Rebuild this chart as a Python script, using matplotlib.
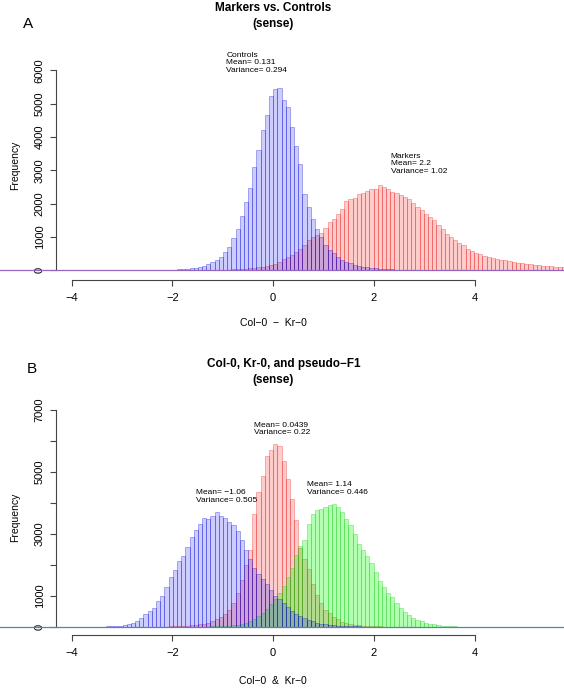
import numpy as np
import matplotlib
matplotlib.use("Agg")
import matplotlib.pyplot as plt
from matplotlib.transforms import blended_transform_factory

plt.rcParams['font.family'] = ['Liberation Sans', 'DejaVu Sans']

# bin grid shared by all histograms (first_bin = index of the leftmost bin)
bin_width = 0.083

# panel A: Markers vs. Controls
a_controls_first_bin = -35
a_controls_counts = [
    1, 1, 2, 2, 3, 4, 5, 7, 9, 12, 15, 20, 28, 35, 45, 60, 80, 100, 130, 190,
    260, 310, 400, 540, 710, 960, 1230, 1630, 2040, 2480, 3100, 3600, 4210, 4650,
    5220, 5450, 5480, 5100, 4910, 4300, 3730, 3200, 2300, 1900, 1550, 1250, 1000,
    760, 620, 510, 410, 310, 250, 210, 160, 140, 110, 90, 75, 60, 50, 40, 30, 25,
    20, 15, 12, 10, 8, 6, 5, 4, 3, 2, 1]
a_markers_first_bin = -20
a_markers_counts = [
    1, 2, 3, 4, 5, 7, 10, 12, 15, 20, 25, 30, 40, 50, 60, 70, 85, 100, 120, 150,
    200, 250, 340, 400, 470, 550, 650, 750, 920, 1000, 1050, 1120, 1280, 1450, 1530,
    1680, 1830, 2070, 2130, 2180, 2300, 2330, 2370, 2430, 2430, 2550, 2500, 2430,
    2350, 2320, 2250, 2200, 2150, 2030, 1900, 1800, 1680, 1600, 1500, 1350, 1250,
    1100, 1000, 900, 820, 750, 650, 570, 520, 480, 440, 410, 380, 350, 320, 300,
    275, 250, 230, 210, 195, 180, 165, 150, 140, 130, 120, 110, 100, 92, 85]

# panel B: Col-0, Kr-0, pseudo-F1
b_col_first_bin = -44
b_col_counts = [
    1, 2, 3, 5, 8, 12, 20, 30, 55, 75, 130, 180, 270, 400, 500, 590, 825, 1000,
    1290, 1610, 1820, 2110, 2270, 2570, 2890, 3110, 3320, 3500, 3480, 3570, 3700,
    3570, 3500, 3380, 3290, 3080, 2790, 2490, 2200, 1910, 1710, 1530, 1390, 1180,
    1000, 910, 780, 640, 520, 420, 340, 270, 210, 170, 130, 100, 80, 60, 45, 35,
    25, 20, 15, 10, 8, 6, 4, 3, 2, 1]
b_f1_first_bin = -30
b_f1_counts = [
    1, 2, 3, 4, 5, 7, 9, 12, 20, 30, 40, 60, 85, 100, 130, 200, 250, 320, 400,
    540, 750, 1100, 1500, 2000, 2490, 3650, 4355, 4860, 5505, 5710, 5890, 5830,
    5355, 4760, 4120, 3450, 2550, 2200, 1870, 1390, 1020, 750, 540, 430, 320, 235,
    160, 130, 85, 60, 45, 30, 20, 15, 10, 7, 5, 4, 3, 2, 1]
b_kr_first_bin = -20
b_kr_counts = [
    1, 2, 3, 3, 5, 8, 12, 18, 25, 35, 50, 70, 95, 130, 180, 250, 330, 430, 560,
    720, 900, 1100, 1300, 1600, 1900, 2300, 2600, 2810, 3320, 3640, 3770, 3800,
    3860, 3920, 3960, 3860, 3700, 3480, 3270, 2980, 2680, 2490, 2270, 2040, 1770,
    1470, 1290, 1090, 960, 770, 590, 480, 375, 290, 215, 180, 130, 100, 75, 55, 30,
    20, 12, 8, 5, 3, 2, 1]

a_labels = ["Controls\nMean= 0.131\nVariance= 0.294", "Markers\nMean= 2.2\nVariance= 1.02"]
b_labels = ["Mean= \u22121.06\nVariance= 0.505", "Mean= 0.0439\nVariance= 0.22",
            "Mean= 1.14\nVariance= 0.446"]

BLUE = ((0, 0, 1, 0.2), (0, 0, 0.85, 0.3))
RED = ((1, 0, 0, 0.2), (0.9, 0, 0, 0.28))
GREEN = ((0, 1, 0, 0.3), (0, 0.75, 0, 0.28))

W, H = 564, 688
XLIM = (-5.42, 5.77)


def px(x, y):
    return x / W, 1 - y / H


def draw_hist(ax, first_bin, counts, colors):
    edges = (first_bin + np.arange(len(counts))) * bin_width
    ax.bar(edges, counts, width=bin_width, align='edge',
           color=colors[0], edgecolor=colors[1], linewidth=0.7)


def style_axis(ax, ymax, yticklabels, base_color):
    ax.set_xlim(*XLIM)
    for s in ["top", "right"]:
        ax.spines[s].set_visible(False)
    ax.spines["left"].set_position(("data", -4.31))
    ax.spines["left"].set_bounds(0, ymax)
    ax.spines["bottom"].set_bounds(-4, 4)
    for s in ["left", "bottom"]:
        ax.spines[s].set_color("#444444")
        ax.spines[s].set_linewidth(0.8)
    ax.set_xticks([-4, -2, 0, 2, 4])
    ax.set_yticks(np.arange(0, ymax + 1, 1000))
    ax.set_yticklabels(yticklabels, rotation=90, va='center')
    ax.tick_params(axis='both', length=4, width=0.8, color="#444444", labelsize=8)
    ax.tick_params(axis='x', pad=5)
    ax.tick_params(axis='y', pad=4)
    ax.axhline(0, color=base_color, lw=0.9, zorder=3)
    ax.patch.set_visible(False)


fig = plt.figure(figsize=(W / 100, H / 100), dpi=100)

# ---- panel A ----
ax1 = fig.add_axes([0, 1 - 280.3 / H, 1, 240.3 / H])
ax1.set_ylim(-300, -300 + 240.3 / 33.33 * 1000)
draw_hist(ax1, a_markers_first_bin, a_markers_counts, RED)
draw_hist(ax1, a_controls_first_bin, a_controls_counts, BLUE)
style_axis(ax1, 6000, [str(v) for v in range(0, 7000, 1000)], "#9466c4")
ax1.text(-0.93, 6560, a_labels[0], fontsize=6, va='top', ha='left', linespacing=1.1)
ax1.text(2.33, 3520, a_labels[1], fontsize=6, va='top', ha='left', linespacing=1.1)

# ---- panel B ----
ax2 = fig.add_axes([0, 1 - 635.3 / H, 1, 240.3 / H])
ax2.set_ylim(-277, -277 + 240.3 / 31 * 1000)
draw_hist(ax2, b_f1_first_bin, b_f1_counts, RED)
draw_hist(ax2, b_kr_first_bin, b_kr_counts, GREEN)
draw_hist(ax2, b_col_first_bin, b_col_counts, BLUE)
style_axis(ax2, 7000, ["0", "1000", "", "3000", "", "5000", "", "7000"], "#5a7fb0")
ax2.text(-1.53, 4440, b_labels[0], fontsize=6, va='top', ha='left', linespacing=1.1)
ax2.text(-0.38, 6615, b_labels[1], fontsize=6, va='top', ha='left', linespacing=1.1)
ax2.text(0.67, 4690, b_labels[2], fontsize=6, va='top', ha='left', linespacing=1.1)

# titles, axis labels, panel letters
for ax, title, title_x, xlab, ytitle, yxlab, yylab in [
        (ax1, "Markers vs. Controls", 0, "Col\u22120  \u2212  Kr\u22120", 8, 323, 165),
        (ax2, "Col-0, Kr-0, and pseudo\u2212F1", 0.22, "Col\u22120  &  Kr\u22120", 364, 681, 517)]:
    tr = blended_transform_factory(ax.transData, fig.transFigure)
    ax.text(title_x, px(0, ytitle)[1], title, transform=tr, ha='center', va='center',
            fontsize=8.5, weight='bold')
    ax.text(0, px(0, ytitle + 16.5)[1], "(sense)", transform=tr, ha='center',
            va='center', fontsize=8.5, weight='bold')
    ax.text(0, px(0, yxlab)[1], xlab, transform=tr, ha='center', va='center', fontsize=7.5)
    fig.text(*px(15, yylab), "Frequency", rotation=90, ha='center', va='center', fontsize=7.5)

fig.text(*px(28, 24), "A", fontsize=11, ha='center', va='center')
fig.text(*px(32, 369), "B", fontsize=11, ha='center', va='center')

fig.savefig("out.png", dpi=100)
